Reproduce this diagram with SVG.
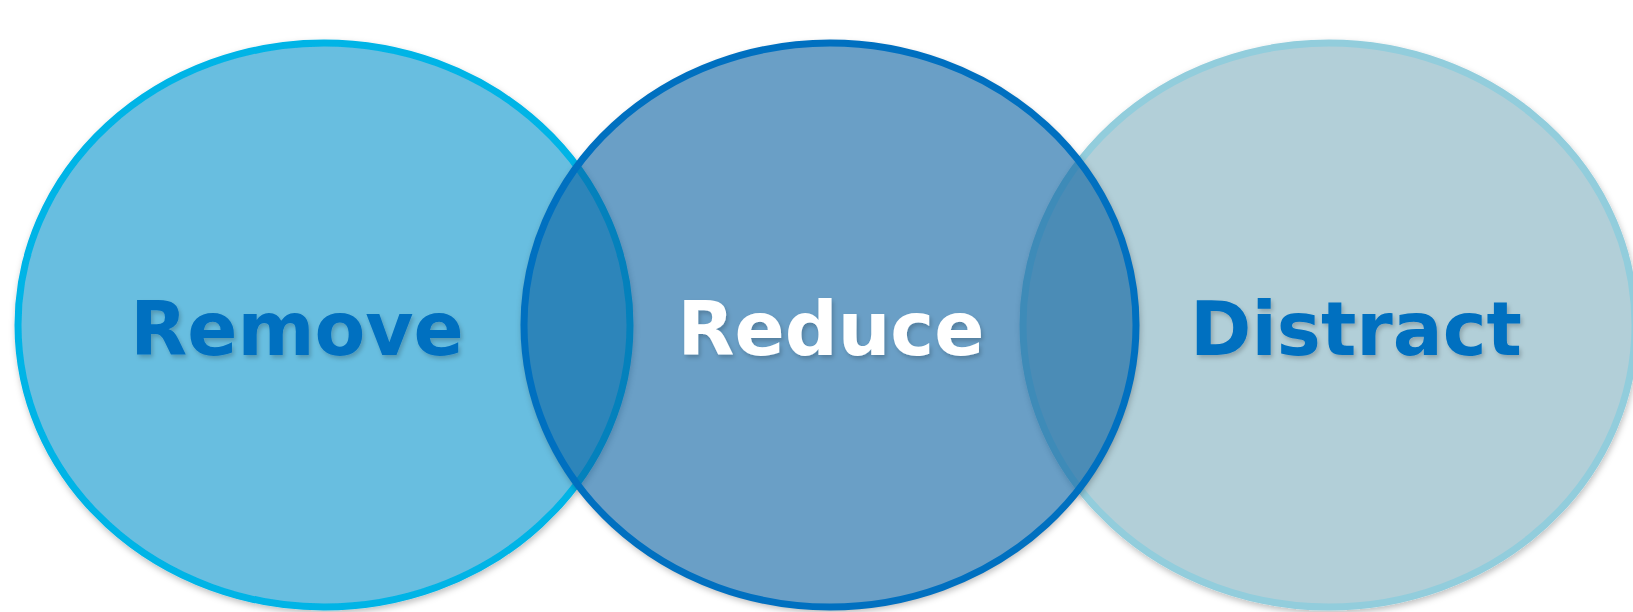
<svg xmlns="http://www.w3.org/2000/svg" width="1633" height="612" viewBox="0 0 1633 612">
  <defs>
    <filter id="shadow" x="-10%" y="-10%" width="120%" height="120%">
      <feDropShadow dx="1" dy="3" stdDeviation="3" flood-color="#000" flood-opacity="0.25"/>
    </filter>
    <filter id="blur" x="-10%" y="-10%" width="120%" height="120%">
      <feGaussianBlur stdDeviation="3"/>
    </filter>
    <filter id="tshadow" x="-10%" y="-20%" width="120%" height="140%">
      <feDropShadow dx="2" dy="3" stdDeviation="2" flood-color="#000" flood-opacity="0.2"/>
    </filter>
    <mask id="outsideReduce" maskUnits="userSpaceOnUse" x="0" y="0" width="1633" height="612">
      <rect width="1633" height="612" fill="#fff"/>
      <ellipse cx="830" cy="325" rx="306" ry="282" fill="#000"/>
    </mask>
  </defs>
  <style>
    .lbl { font-family: "DejaVu Sans", Verdana, sans-serif; font-weight: bold; font-size: 74px; text-anchor: middle; }
  </style>
  <rect width="1633" height="612" fill="#ffffff"/>
  <g id="node-remove">
    <ellipse cx="324" cy="325" rx="306" ry="282" fill="#67BEE0" stroke="#00B4E6" stroke-width="7" filter="url(#shadow)"/>
  </g>
  <g id="node-distract">
    <ellipse cx="1329" cy="325" rx="306" ry="282" fill="#B2CFD8" stroke="#92CDDC" stroke-width="7" filter="url(#shadow)"/>
  </g>
  <g id="node-reduce">
    <g mask="url(#outsideReduce)">
      <ellipse cx="831" cy="328" rx="309" ry="285" fill="#000" fill-opacity="0.25" filter="url(#blur)"/>
    </g>
    <ellipse cx="830" cy="325" rx="306" ry="282" fill="#075FA0" fill-opacity="0.6" stroke="#0070C0" stroke-width="7"/>
  </g>
  <g id="labels">
    <text class="lbl" x="297" y="355" fill="#0070C0" filter="url(#tshadow)">Remove</text>
    <text class="lbl" x="831" y="355" fill="#FFFFFF" filter="url(#tshadow)">Reduce</text>
    <text class="lbl" x="1356" y="355" fill="#0070C0" filter="url(#tshadow)">Distract</text>
  </g>
  <g id="connectors"></g>
</svg>
